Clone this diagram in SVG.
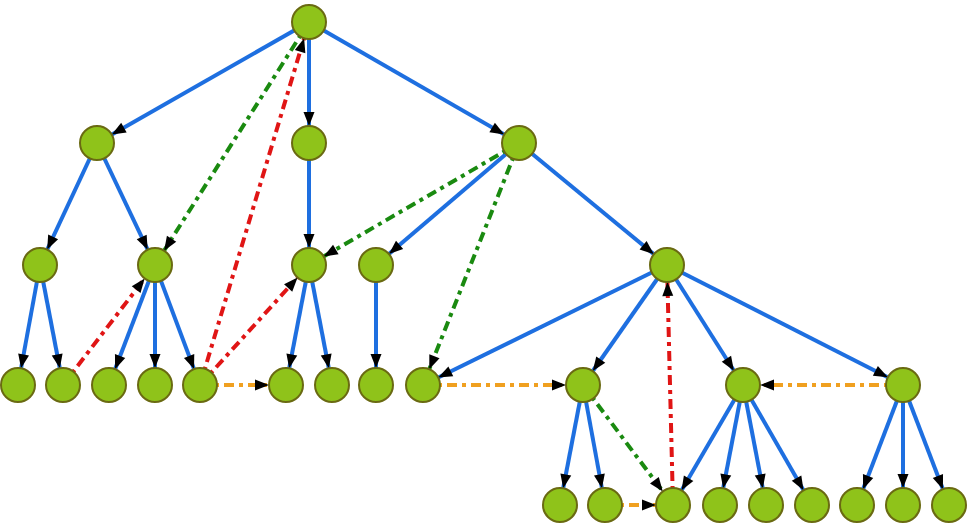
<svg xmlns="http://www.w3.org/2000/svg" width="972" height="528" viewBox="0 0 972 528">
<defs>
<marker id="ar" markerUnits="userSpaceOnUse" markerWidth="40" markerHeight="20" refX="0" refY="0" orient="auto" overflow="visible" viewBox="-40 -10 40 20"><path d="M-31,-5.5 L-17,0 L-31,5.5 z" fill="#000"/></marker>
</defs>
<style>
.b{stroke:#1e6fe0;stroke-width:4;fill:none}
.g{stroke:#1a8a10;stroke-width:4;stroke-dasharray:10,5,4,5;fill:none}
.r{stroke:#e01515;stroke-width:4;stroke-dasharray:10,5,4,5;fill:none}
.o{stroke:#f0a020;stroke-width:4;stroke-dasharray:10,5,4,5;fill:none}
.a{marker-end:url(#ar)}
circle{fill:#8fc31a;stroke:#6a6a12;stroke-width:2}
</style>
<rect width="972" height="528" fill="#fff"/>
<g id="connectors">
<line class="b a" x1="309" y1="22" x2="97" y2="143"/>
<line class="b a" x1="309" y1="22" x2="309" y2="143"/>
<line class="b a" x1="309" y1="22" x2="519" y2="143"/>
<line class="b a" x1="97" y1="143" x2="40" y2="265"/>
<line class="b a" x1="97" y1="143" x2="155" y2="265"/>
<line class="b a" x1="309" y1="143" x2="309" y2="265"/>
<line class="b a" x1="519" y1="143" x2="376" y2="265"/>
<line class="b a" x1="519" y1="143" x2="667" y2="265"/>
<line class="b a" x1="40" y1="265" x2="18" y2="385"/>
<line class="b a" x1="40" y1="265" x2="63" y2="385"/>
<line class="b a" x1="155" y1="265" x2="109" y2="385"/>
<line class="b a" x1="155" y1="265" x2="155" y2="385"/>
<line class="b a" x1="155" y1="265" x2="200" y2="385"/>
<line class="b a" x1="309" y1="265" x2="286" y2="385"/>
<line class="b a" x1="309" y1="265" x2="332" y2="385"/>
<line class="b a" x1="376" y1="265" x2="376" y2="385"/>
<line class="b a" x1="667" y1="265" x2="423" y2="385"/>
<line class="b a" x1="667" y1="265" x2="583" y2="385"/>
<line class="b a" x1="667" y1="265" x2="743" y2="385"/>
<line class="b a" x1="667" y1="265" x2="903" y2="385"/>
<line class="b a" x1="583" y1="385" x2="560" y2="505"/>
<line class="b a" x1="583" y1="385" x2="605" y2="505"/>
<line class="b a" x1="743" y1="385" x2="673" y2="505"/>
<line class="b a" x1="743" y1="385" x2="720" y2="505"/>
<line class="b a" x1="743" y1="385" x2="766" y2="505"/>
<line class="b a" x1="743" y1="385" x2="812" y2="505"/>
<line class="b a" x1="903" y1="385" x2="857" y2="505"/>
<line class="b a" x1="903" y1="385" x2="903" y2="505"/>
<line class="b a" x1="903" y1="385" x2="949" y2="505"/>
<line class="g a" x1="309" y1="22" x2="155" y2="265"/>
<line class="g a" x1="519" y1="143" x2="309" y2="265"/>
<line class="g a" x1="519" y1="143" x2="423" y2="385"/>
<line class="g a" x1="583" y1="385" x2="673" y2="505"/>
<line class="r a" x1="200" y1="385" x2="309" y2="22"/>
<line class="r a" x1="63" y1="385" x2="155" y2="265"/>
<line class="r a" x1="200" y1="385" x2="309" y2="265"/>
<line class="r a" x1="673" y1="505" x2="667" y2="265"/>
<line class="o a" x1="200" y1="385" x2="286" y2="385"/>
<line class="o a" x1="423" y1="385" x2="583" y2="385"/>
<line class="o a" x1="903" y1="385" x2="743" y2="385"/>
<line class="o a" x1="605" y1="505" x2="673" y2="505"/>
</g>
<g id="n0"><circle cx="309" cy="22" r="17"/></g>
<g id="n1"><circle cx="97" cy="143" r="17"/></g>
<g id="n2"><circle cx="309" cy="143" r="17"/></g>
<g id="n3"><circle cx="519" cy="143" r="17"/></g>
<g id="n4"><circle cx="40" cy="265" r="17"/></g>
<g id="n5"><circle cx="155" cy="265" r="17"/></g>
<g id="n6"><circle cx="309" cy="265" r="17"/></g>
<g id="n7"><circle cx="376" cy="265" r="17"/></g>
<g id="n8"><circle cx="667" cy="265" r="17"/></g>
<g id="n9"><circle cx="18" cy="385" r="17"/></g>
<g id="n10"><circle cx="63" cy="385" r="17"/></g>
<g id="n11"><circle cx="109" cy="385" r="17"/></g>
<g id="n12"><circle cx="155" cy="385" r="17"/></g>
<g id="n13"><circle cx="200" cy="385" r="17"/></g>
<g id="n14"><circle cx="286" cy="385" r="17"/></g>
<g id="n15"><circle cx="332" cy="385" r="17"/></g>
<g id="n16"><circle cx="376" cy="385" r="17"/></g>
<g id="n17"><circle cx="423" cy="385" r="17"/></g>
<g id="n18"><circle cx="583" cy="385" r="17"/></g>
<g id="n19"><circle cx="743" cy="385" r="17"/></g>
<g id="n20"><circle cx="903" cy="385" r="17"/></g>
<g id="n21"><circle cx="560" cy="505" r="17"/></g>
<g id="n22"><circle cx="605" cy="505" r="17"/></g>
<g id="n23"><circle cx="673" cy="505" r="17"/></g>
<g id="n24"><circle cx="720" cy="505" r="17"/></g>
<g id="n25"><circle cx="766" cy="505" r="17"/></g>
<g id="n26"><circle cx="812" cy="505" r="17"/></g>
<g id="n27"><circle cx="857" cy="505" r="17"/></g>
<g id="n28"><circle cx="903" cy="505" r="17"/></g>
<g id="n29"><circle cx="949" cy="505" r="17"/></g>
</svg>
